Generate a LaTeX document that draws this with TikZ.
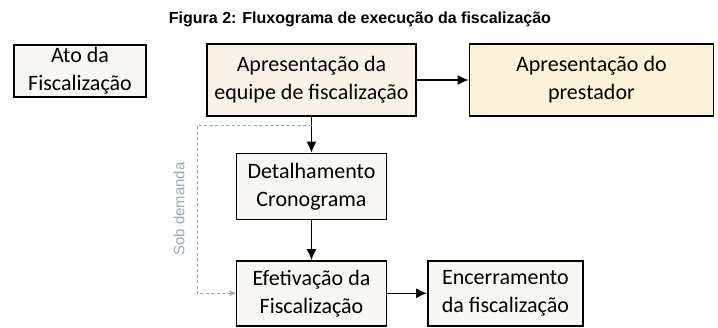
\documentclass[tikz,border=0pt]{standalone}
\usepackage{fontspec}
\setmainfont{Carlito}
\newfontfamily\titlefont{Liberation Sans}
\usetikzlibrary{positioning,arrows.meta}
\definecolor{paperwhite}{HTML}{F8F7F3}
\definecolor{equipebeige}{HTML}{F9F3E6}
\definecolor{prestadorcream}{HTML}{FBF2DA}
\definecolor{demandgray}{HTML}{9AA5BE}
\begin{document}
\begin{tikzpicture}[x=1pt,y=-1pt]
    \tikzstyle{box} = [draw = black, line width = 1.4pt, align = center, inner sep = 0pt, font = \fontsize{22}{28}\selectfont]
    \tikzstyle{arrow} = [line width = 1.6pt, -{Latex[length = 11pt, width = 10pt]}]
    \tikzstyle{demand} = [draw = demandgray, dash pattern = on 3pt off 2.5pt, line width = 0.8pt, -{Stealth[length = 7pt, width = 6pt]}]
    \useasboundingbox (0,0) rectangle (718,327);

    \node[font = \titlefont\bfseries\fontsize{16}{18}\selectfont](title) at (360,19){Figura 2: Fluxograma de execução da fiscalização};
    \node[box, fill = paperwhite, minimum width = 132pt, minimum height = 52pt](ato) at (80,71){Ato da\\Fiscalização};
    \node[box, fill = equipebeige, minimum width = 209pt, minimum height = 72pt](equipe) at (311.5,80){Apresentação da\\equipe de fiscalização};
    \node[box, fill = prestadorcream, minimum width = 244pt, minimum height = 72pt, right = 52pt of equipe](prestador){Apresentação do\\prestador};
    \node[box, fill = paperwhite, minimum width = 150pt, minimum height = 66pt, below = 36pt of equipe](crono){Detalhamento\\Cronograma};
    \node[box, fill = paperwhite, minimum width = 150pt, minimum height = 65pt, below = 40pt of crono](efet){Efetivação da\\Fiscalização};
    \node[box, fill = paperwhite, minimum width = 155pt, minimum height = 65pt, right = 40pt of efet](encerr){Encerramento\\da fiscalização};

    \draw[arrow](equipe)--(prestador);
    \draw[arrow](equipe)--(crono);
    \draw[arrow](crono)--(efet);
    \draw[arrow](efet)--(encerr);

    % retorno sob demanda
    \coordinate(split) at (equipe.south |- 0,125);
    \coordinate(corner) at (197,125);
    \draw[demand](split)--(corner)|-(efet.west);
    \node[rotate = 90, text = demandgray, font = \titlefont\fontsize{15}{17}\selectfont](sob) at (179,209){Sob demanda};
\end{tikzpicture}
\end{document}
